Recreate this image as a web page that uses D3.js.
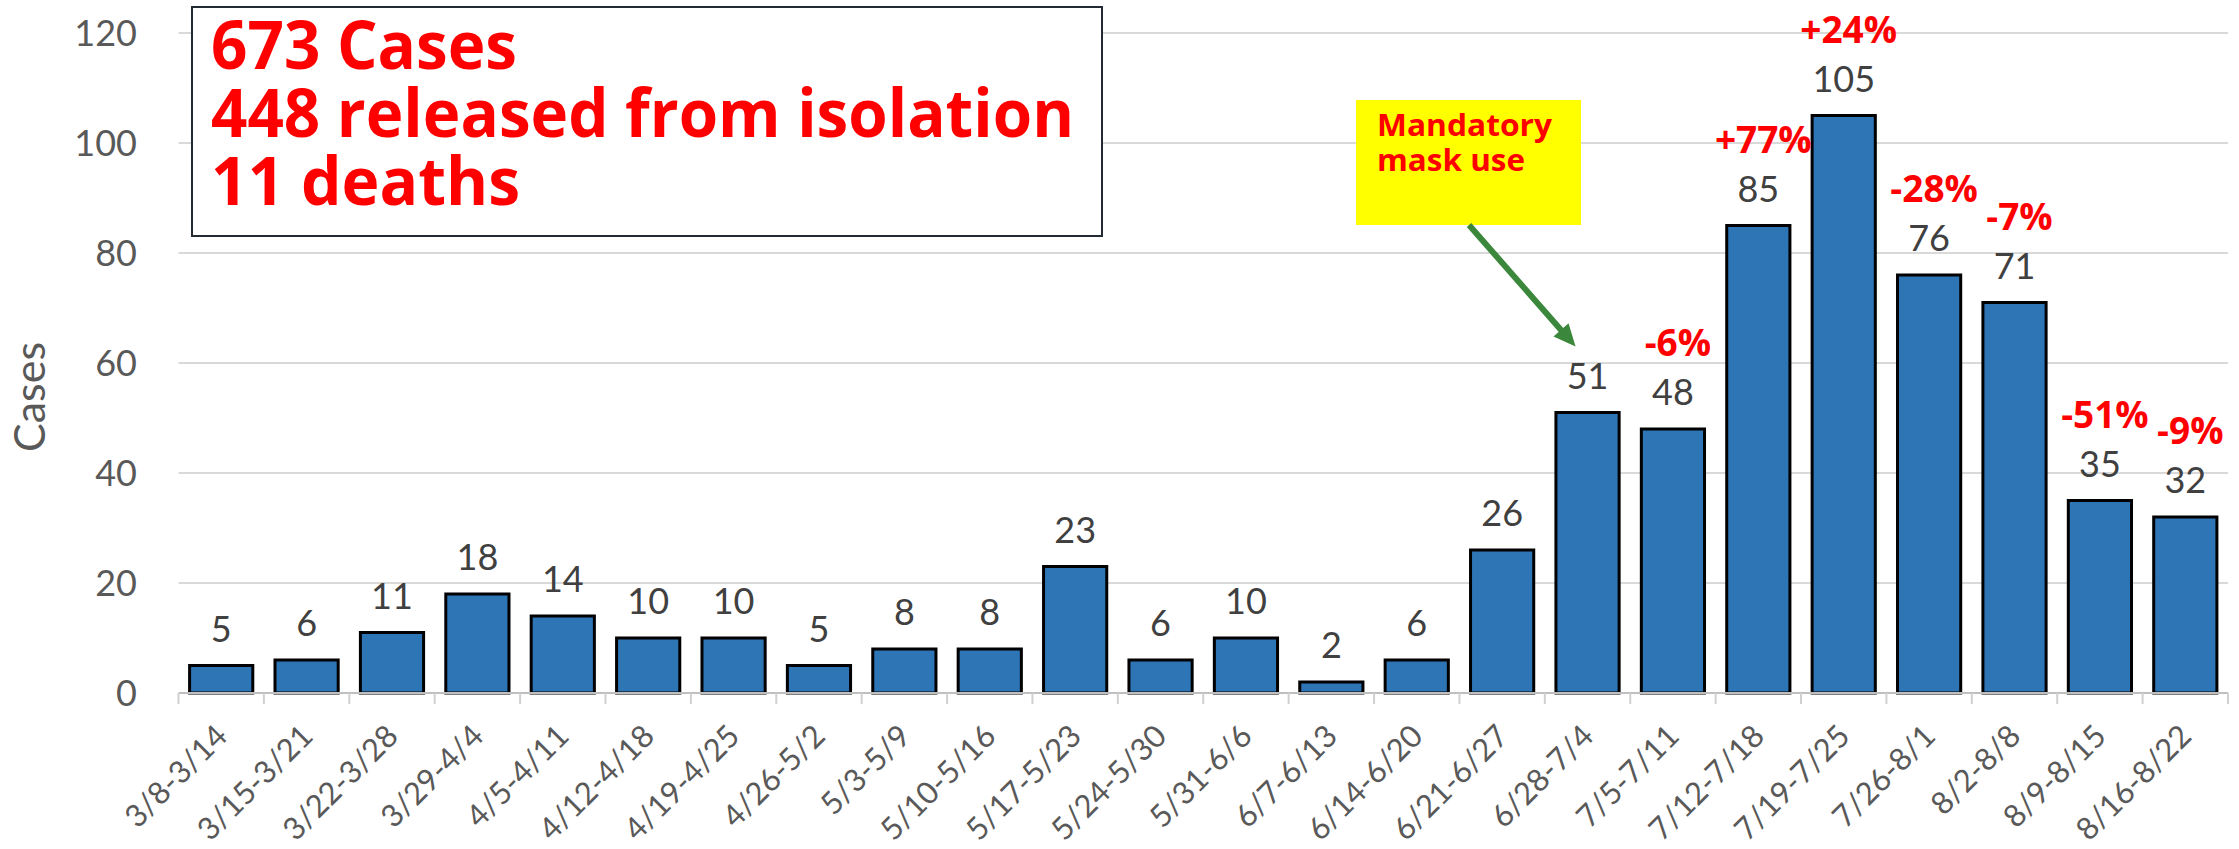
<!DOCTYPE html>
<html>
<head>
<meta charset="utf-8">
<script src="https://cdn.jsdelivr.net/npm/d3@7"></script>
<style>
  html, body { margin: 0; padding: 0; background: #fff; }
  svg { display: block; }
</style>
</head>
<body>
<div id="chart"></div>
<script>
// Weekly cases, 3/8 through 8/22
const weeks = [
  "3/8-3/14", "3/15-3/21", "3/22-3/28", "3/29-4/4", "4/5-4/11", "4/12-4/18",
  "4/19-4/25", "4/26-5/2", "5/3-5/9", "5/10-5/16", "5/17-5/23", "5/24-5/30",
  "5/31-6/6", "6/7-6/13", "6/14-6/20", "6/21-6/27", "6/28-7/4", "7/5-7/11",
  "7/12-7/18", "7/19-7/25", "7/26-8/1", "8/2-8/8", "8/9-8/15", "8/16-8/22"
];
const cases = [5, 6, 11, 18, 14, 10, 10, 5, 8, 8, 23, 6, 10, 2, 6, 26, 51, 48, 85, 105, 76, 71, 35, 32];
// week-over-week change labels (red), only shown from 7/5 on
const changes = [
  null, null, null, null, null, null, null, null, null, null, null, null,
  null, null, null, null, null, "-6%", "+77%", "+24%", "-28%", "-7%", "-51%", "-9%"
];
const yTicks = [0, 20, 40, 60, 80, 100, 120];
const summaryLines = ["673 Cases", "448 released from isolation", "11 deaths"];
const maskNote = ["Mandatory", "mask use"];
const maskWeek = "6/28-7/4";

const width = 2239;
const height = 849;
const margin = { top: 33, right: 11, bottom: 156, left: 178.5 };

const svg = d3.select("#chart")
  .append("svg")
  .attr("width", width)
  .attr("height", height);

const x = d3.scaleBand()
  .domain(weeks)
  .range([margin.left, width - margin.right])
  .paddingInner(0.26)
  .paddingOuter(0.13);

const y = d3.scaleLinear()
  .domain([0, 120])
  .range([height - margin.bottom, margin.top]);

const grey = "#595959";
const numFont = "Lato, Carlito, sans-serif";
const redFont = "'Open Sans', 'Noto Sans', sans-serif";

// Gridlines
svg.append("g")
  .selectAll("line")
  .data(yTicks.filter((t) => t > 0))
  .enter()
  .append("line")
  .attr("x1", margin.left)
  .attr("x2", width - margin.right)
  .attr("y1", (d) => y(d))
  .attr("y2", (d) => y(d))
  .attr("stroke", "#d9d9d9")
  .attr("stroke-width", 2);

// Y tick labels
svg.append("g")
  .selectAll("text")
  .data(yTicks)
  .enter()
  .append("text")
  .attr("x", 137)
  .attr("y", (d) => y(d))
  .attr("dy", "0.36em")
  .attr("text-anchor", "end")
  .attr("font-family", numFont)
  .attr("font-size", 36)
  .attr("fill", grey)
  .text((d) => d);

// Y axis title
svg.append("text")
  .attr("transform", `translate(45,${(y(0) + y(120)) / 2 + 34}) rotate(-90)`)
  .attr("text-anchor", "middle")
  .attr("font-family", numFont)
  .attr("font-size", 43)
  .attr("fill", grey)
  .text("Cases");

// Bars
svg.append("g")
  .selectAll("rect")
  .data(cases)
  .enter()
  .append("rect")
  .attr("x", (d, i) => x(weeks[i]))
  .attr("y", (d) => y(d))
  .attr("width", x.bandwidth())
  .attr("height", (d) => y(0) - y(d))
  .attr("fill", "#2e75b6")
  .attr("stroke", "#000")
  .attr("stroke-width", 3);

// X axis line + tick marks between categories
const axisY = y(0);
svg.append("line")
  .attr("x1", margin.left)
  .attr("x2", width - margin.right)
  .attr("y1", axisY)
  .attr("y2", axisY)
  .attr("stroke", "#bfbfbf")
  .attr("stroke-width", 2);

const step = x.step();
svg.append("g")
  .selectAll("line")
  .data(d3.range(weeks.length + 1))
  .enter()
  .append("line")
  .attr("x1", (i) => margin.left + i * step)
  .attr("x2", (i) => margin.left + i * step)
  .attr("y1", axisY)
  .attr("y2", axisY + 11)
  .attr("stroke", "#d0d0d0")
  .attr("stroke-width", 2);

// X tick labels, rotated
svg.append("g")
  .selectAll("text")
  .data(weeks)
  .enter()
  .append("text")
  .attr("transform", (d) => `translate(${x(d) + x.bandwidth() / 2 + 8},${axisY + 45}) rotate(-45)`)
  .attr("text-anchor", "end")
  .attr("font-family", numFont)
  .attr("font-size", 31)
  .attr("fill", grey)
  .text((d) => d);

// Value labels
svg.append("g")
  .selectAll("text")
  .data(cases)
  .enter()
  .append("text")
  .attr("x", (d, i) => x(weeks[i]) + x.bandwidth() / 2)
  .attr("y", (d) => y(d) - 24)
  .attr("text-anchor", "middle")
  .attr("font-family", numFont)
  .attr("font-size", 36)
  .attr("fill", "#404040")
  .text((d) => d);

// Percent change labels
svg.append("g")
  .selectAll("text")
  .data(cases.map((v, i) => ({ v, week: weeks[i], label: changes[i] })).filter((d) => d.label))
  .enter()
  .append("text")
  .attr("x", (d) => x(d.week) + x.bandwidth() / 2 + 5)
  .attr("y", (d) => y(d.v) - 73)
  .attr("text-anchor", "middle")
  .attr("font-family", redFont)
  .attr("font-weight", 700)
  .attr("font-size", 37)
  .attr("fill", "#ff0000")
  .text((d) => d.label);

// Summary box
svg.append("rect")
  .attr("x", 192)
  .attr("y", 7)
  .attr("width", 910)
  .attr("height", 229)
  .attr("fill", "#fff")
  .attr("stroke", "#222a33")
  .attr("stroke-width", 2);

const summaryWidths = [306, 863, 309];
svg.append("g")
  .selectAll("text")
  .data(summaryLines)
  .enter()
  .append("text")
  .attr("x", 211)
  .attr("y", (d, i) => 69 + i * 68)
  .attr("font-family", redFont)
  .attr("font-weight", 700)
  .attr("font-size", 66)
  .attr("fill", "#ff0000")
  .attr("textLength", (d, i) => summaryWidths[i])
  .attr("lengthAdjust", "spacingAndGlyphs")
  .text((d) => d);

// Mandatory mask note
svg.append("rect")
  .attr("x", 1356)
  .attr("y", 100)
  .attr("width", 225)
  .attr("height", 125)
  .attr("fill", "#ffff00");

const noteWidths = [175, 148];
svg.append("g")
  .selectAll("text")
  .data(maskNote)
  .enter()
  .append("text")
  .attr("x", 1377)
  .attr("y", (d, i) => 136 + i * 35)
  .attr("font-family", redFont)
  .attr("font-weight", 700)
  .attr("font-size", 31)
  .attr("fill", "#ff0000")
  .attr("textLength", (d, i) => noteWidths[i])
  .attr("lengthAdjust", "spacingAndGlyphs")
  .text((d) => d);

// Arrow pointing at the mask-mandate week
const start = [1469, 225];
const tip = [x(maskWeek) + x.bandwidth() / 2 - 12, y(63)];
const dx = tip[0] - start[0];
const dy = tip[1] - start[1];
const len = Math.hypot(dx, dy);
const ux = dx / len, uy = dy / len;
const headLen = 22, headHalf = 10;
const base = [tip[0] - ux * headLen, tip[1] - uy * headLen];

svg.append("line")
  .attr("x1", start[0])
  .attr("y1", start[1])
  .attr("x2", base[0] + ux * 2)
  .attr("y2", base[1] + uy * 2)
  .attr("stroke", "#3b873b")
  .attr("stroke-width", 6);

svg.append("path")
  .attr("d", `M${tip[0]},${tip[1]}L${base[0] - uy * headHalf},${base[1] + ux * headHalf}L${base[0] + uy * headHalf},${base[1] - ux * headHalf}Z`)
  .attr("fill", "#3b873b");
</script>
</body>
</html>
